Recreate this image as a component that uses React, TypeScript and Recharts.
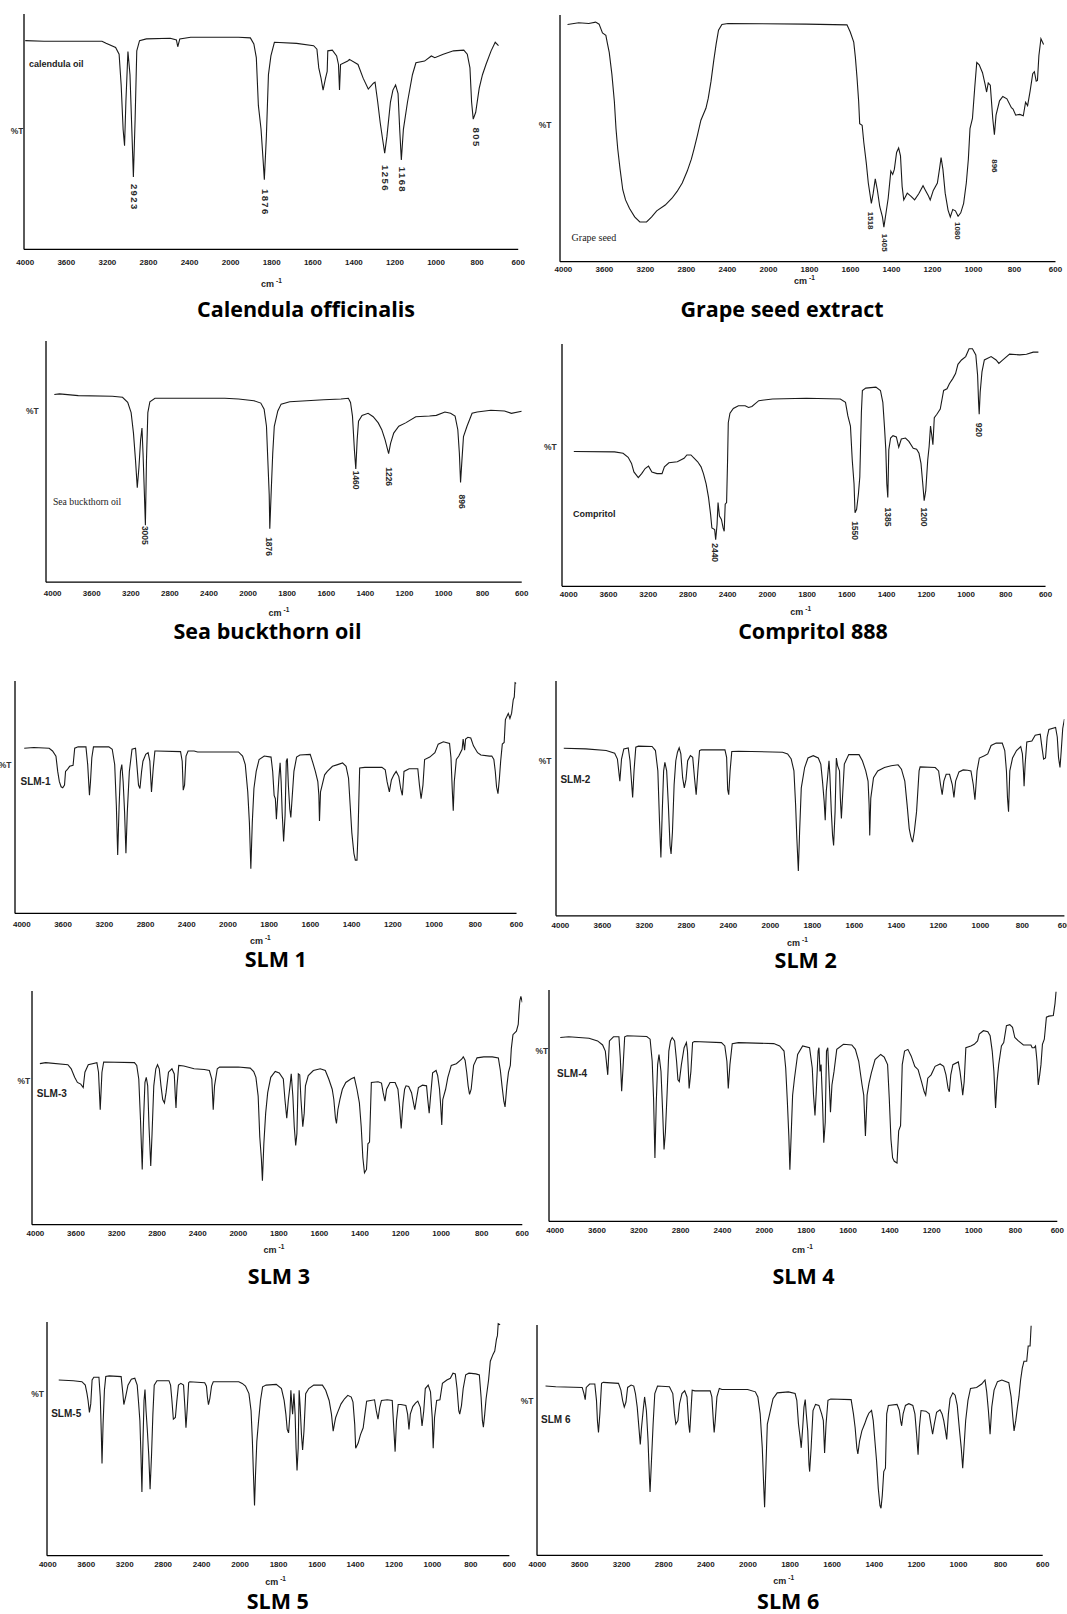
import React from 'react';
import { LineChart, Line, XAxis, YAxis, ReferenceDot } from 'recharts';

// FTIR spectra, [wavenumber cm-1, %T]
const wavenumberTicks = ['4000', '3600', '3200', '2800', '2400', '2000', '1800', '1600', '1400', '1200', '1000', '800', '600'];

type Pt = [number, number];
type Peak = [string, number, number];

const calendulaOil: Pt[] = [
  [4000, 61.2], [3817, 61.0], [3253, 61.0], [3213, 60.4], [3120, 59.2], [3086, 57.2], [3066, 48.2], [3047, 35.2], [3033, 30.4], [3020, 43.2],
  [3000, 58.0], [2980, 51.2], [2960, 33.2], [2947, 21.2], [2930, 38.2], [2914, 58.2], [2887, 61.2], [2821, 61.7], [2588, 61.9], [2528, 61.4],
  [2515, 59.4], [2495, 61.7], [2389, 62.2], [1962, 62.2], [1904, 62.0], [1887, 60.2], [1875, 56.2], [1865, 42.2], [1852, 35.2], [1842, 26.2],
  [1836, 20.4], [1826, 33.2], [1816, 51.2], [1804, 56.7], [1787, 60.7], [1679, 60.4], [1596, 59.7], [1580, 58.7], [1571, 53.2], [1560, 50.2],
  [1550, 46.7], [1538, 50.2], [1530, 52.2], [1527, 58.2], [1505, 58.4], [1484, 56.7], [1475, 54.2], [1470, 46.7], [1465, 54.2], [1430, 55.2],
  [1422, 55.7], [1380, 54.2], [1355, 50.2], [1330, 47.0], [1305, 48.7], [1297, 49.0], [1284, 43.2], [1272, 37.2], [1260, 32.2], [1250, 28.2],
  [1239, 33.2], [1222, 43.2], [1210, 46.7], [1197, 48.2], [1185, 45.7], [1177, 35.2], [1169, 26.2], [1159, 35.2], [1139, 43.2], [1115, 51.2],
  [1098, 54.7], [1056, 55.2], [1023, 56.7], [1006, 56.2], [965, 57.2], [915, 58.2], [865, 58.4], [848, 57.2], [835, 53.2], [827, 43.2],
  [819, 38.2], [807, 40.2], [790, 47.2], [774, 51.2], [757, 54.2], [732, 58.2], [712, 60.7], [696, 59.7],
];
const calendulaPeaks: Peak[] = [['2923', 2937, 19.2], ['1876', 1832, 17.7], ['1256', 1248, 24.7], ['1168', 1165, 24.2], ['805', 805, 35.7]];

const grapeSeed: Pt[] = [
  [3960, 69.9], [3851, 70.4], [3752, 70.2], [3686, 70.6], [3652, 70.0], [3619, 67.4], [3586, 66.7], [3570, 64.2], [3553, 61.7], [3527, 55.2],
  [3503, 47.2], [3487, 39.2], [3470, 33.2], [3447, 27.2], [3421, 21.2], [3394, 18.2], [3355, 15.7], [3305, 13.2], [3255, 11.7], [3189, 11.7],
  [3139, 13.2], [3090, 15.0], [3007, 16.7], [2941, 18.7], [2891, 20.7], [2841, 23.2], [2792, 26.7], [2752, 30.2], [2726, 33.2], [2693, 37.2],
  [2659, 41.7], [2610, 45.2], [2587, 48.2], [2560, 53.2], [2534, 59.2], [2510, 64.2], [2487, 68.2], [2454, 69.9], [2395, 70.2], [1816, 70.0],
  [1617, 69.8], [1601, 67.7], [1584, 64.7], [1576, 60.2], [1568, 54.2], [1560, 47.2], [1555, 40.7], [1543, 40.2], [1535, 35.2], [1523, 29.2],
  [1513, 23.2], [1498, 17.2], [1489, 20.2], [1479, 24.4], [1469, 21.2], [1457, 16.2], [1444, 13.2], [1437, 10.2], [1427, 14.2], [1416, 18.7],
  [1403, 26.7], [1394, 25.7], [1386, 27.2], [1375, 32.2], [1365, 33.5], [1356, 31.2], [1348, 22.2], [1340, 18.2], [1323, 20.2], [1303, 19.2],
  [1287, 18.2], [1267, 20.0], [1246, 22.4], [1234, 21.0], [1220, 19.4], [1211, 18.2], [1196, 21.0], [1176, 23.2], [1166, 27.2], [1158, 30.7],
  [1149, 27.2], [1138, 20.2], [1124, 15.2], [1113, 13.2], [1101, 15.4], [1088, 15.0], [1075, 13.4], [1062, 14.4], [1048, 17.2], [1035, 23.2],
  [1025, 30.2], [1017, 39.2], [1005, 42.2], [994, 51.2], [984, 58.7], [972, 58.0], [956, 55.7], [943, 52.2], [936, 50.0], [928, 52.7],
  [918, 52.0], [906, 42.2], [898, 37.4], [890, 43.2], [873, 47.4], [857, 48.7], [837, 48.0], [815, 45.4], [807, 45.0], [794, 43.2],
  [774, 43.4], [757, 43.0], [746, 47.0], [736, 46.0], [724, 50.2], [711, 55.4], [703, 56.0], [694, 53.2], [688, 53.4], [681, 60.7],
  [671, 65.7], [658, 64.0],
];
const grapePeaks: Peak[] = [['1518', 1502, 14.7], ['1405', 1436, 8.2], ['1080', 1078, 11.7], ['896', 897, 30.2]];

const seaBuckthorn: Pt[] = [
  [3983, 55.0], [3930, 55.2], [3738, 54.7], [3389, 54.5], [3285, 54.2], [3232, 52.7], [3197, 49.7], [3173, 43.7], [3152, 35.7], [3134, 27.7],
  [3117, 33.7], [3100, 41.7], [3086, 45.2], [3075, 37.7], [3061, 25.7], [3051, 16.7], [3040, 35.7], [3026, 49.7], [3005, 52.9], [2953, 53.9],
  [2796, 53.9], [2238, 53.9], [2098, 53.7], [1970, 53.2], [1935, 52.5], [1918, 50.7], [1906, 45.7], [1899, 35.7], [1892, 25.7], [1889, 15.7],
  [1881, 27.7], [1874, 37.7], [1866, 45.7], [1848, 50.2], [1831, 52.2], [1787, 52.9], [1613, 53.5], [1525, 53.7], [1487, 53.9], [1476, 52.7],
  [1466, 48.7], [1456, 38.7], [1449, 33.2], [1442, 41.7], [1435, 47.2], [1417, 48.9], [1386, 49.5], [1360, 48.5], [1334, 46.7], [1316, 44.7],
  [1299, 41.7], [1281, 37.7], [1271, 40.7], [1255, 43.7], [1229, 45.7], [1194, 46.7], [1142, 48.5], [1072, 48.7], [1037, 48.9], [993, 49.9],
  [964, 49.5], [941, 48.7], [927, 44.7], [919, 37.7], [913, 29.2], [906, 35.7], [898, 42.7], [880, 45.7], [854, 49.5], [828, 49.9],
  [758, 50.4], [688, 50.2], [653, 49.5], [600, 50.1],
];
const seaPeaks: Peak[] = [['3005', 3051, 16.5], ['1876', 1892, 13.2], ['1460', 1447, 32.7], ['1226', 1278, 33.7], ['896', 906, 25.7]];

const compritol: Pt[] = [
  [3949, 39.7], [3539, 39.6], [3453, 39.2], [3402, 38.0], [3368, 36.2], [3344, 33.7], [3300, 32.0], [3266, 33.2], [3231, 34.7], [3197, 35.4],
  [3163, 33.7], [3112, 33.2], [3061, 33.2], [3037, 35.2], [2992, 36.4], [2907, 36.7], [2839, 37.7], [2811, 38.7], [2770, 38.7], [2736, 37.7],
  [2702, 36.7], [2668, 35.2], [2644, 33.2], [2617, 30.2], [2593, 26.2], [2572, 21.2], [2559, 17.2], [2531, 16.7], [2521, 13.7], [2507, 18.2],
  [2497, 24.7], [2483, 20.7], [2463, 19.7], [2446, 17.2], [2435, 16.2], [2425, 24.2], [2411, 24.7], [2401, 37.2], [2394, 48.2], [2377, 51.0],
  [2343, 52.4], [2292, 53.2], [2224, 53.2], [2190, 52.7], [2156, 53.0], [2087, 54.7], [1974, 55.2], [1804, 55.4], [1633, 55.2], [1607, 54.2],
  [1595, 50.2], [1582, 47.2], [1573, 37.2], [1564, 30.2], [1559, 21.7], [1551, 22.7], [1542, 27.2], [1535, 32.2], [1527, 51.2], [1522, 57.7],
  [1505, 58.4], [1454, 58.7], [1431, 57.7], [1419, 54.2], [1411, 47.2], [1404, 40.2], [1399, 30.2], [1394, 26.2], [1389, 40.2], [1380, 43.7],
  [1368, 44.4], [1351, 44.0], [1339, 41.0], [1326, 43.4], [1305, 43.7], [1288, 42.7], [1266, 40.7], [1249, 40.4], [1237, 39.2], [1227, 36.2],
  [1218, 30.2], [1211, 25.2], [1203, 28.2], [1193, 37.2], [1186, 41.2], [1179, 47.2], [1172, 44.2], [1167, 41.7], [1160, 49.7], [1147, 50.7],
  [1130, 52.2], [1113, 57.7], [1096, 58.2], [1084, 59.7], [1067, 61.2], [1053, 62.7], [1041, 65.4], [1023, 66.7], [1002, 67.7], [985, 70.0],
  [968, 70.0], [951, 68.2], [942, 62.2], [937, 54.2], [934, 50.7], [929, 57.2], [920, 63.2], [908, 66.7], [874, 67.7], [849, 66.7],
  [835, 65.7], [815, 66.7], [781, 68.4], [730, 68.2], [696, 68.4], [662, 69.0], [636, 69.0],
];
const compritolPeaks: Peak[] = [['2440', 2531, 12.7], ['1550', 1559, 19.2], ['1385', 1394, 23.2], ['1200', 1211, 23.2], ['920', 934, 48.2]];

const slm1: Pt[] = [
  [3977, 48.4], [3884, 48.6], [3735, 48.4], [3702, 47.6], [3669, 46.1], [3652, 41.6], [3636, 38.6], [3619, 37.1], [3603, 36.8], [3586, 37.6],
  [3576, 41.6], [3560, 42.1], [3536, 43.1], [3503, 43.4], [3487, 48.4], [3454, 48.8], [3378, 48.8], [3361, 43.6], [3344, 34.6], [3334, 38.6],
  [3321, 45.6], [3305, 48.8], [3156, 48.8], [3123, 48.1], [3099, 43.6], [3083, 31.6], [3070, 17.1], [3056, 31.6], [3043, 41.6], [3030, 43.6],
  [3017, 38.6], [3003, 29.6], [2990, 17.6], [2977, 29.6], [2957, 41.6], [2931, 48.1], [2897, 48.4], [2884, 43.6], [2868, 37.6], [2854, 36.6],
  [2838, 41.6], [2825, 44.6], [2798, 46.6], [2775, 47.1], [2758, 44.6], [2742, 35.6], [2725, 42.6], [2709, 47.6], [2692, 47.6], [2460, 47.4],
  [2444, 44.6], [2434, 36.1], [2421, 37.6], [2407, 46.1], [2387, 47.6], [2328, 47.6], [2295, 47.3], [1949, 47.3], [1929, 46.1], [1916, 43.6],
  [1904, 35.6], [1896, 26.6], [1889, 13.1], [1882, 26.6], [1874, 36.6], [1863, 41.6], [1849, 45.1], [1824, 46.1], [1791, 45.8], [1783, 41.6],
  [1776, 34.6], [1770, 33.6], [1765, 27.6], [1758, 34.6], [1753, 39.6], [1747, 44.1], [1742, 38.6], [1737, 29.6], [1730, 21.1], [1723, 28.6],
  [1717, 44.6], [1712, 45.4], [1707, 37.6], [1700, 30.6], [1695, 28.1], [1689, 33.6], [1680, 41.6], [1667, 45.8], [1651, 46.4], [1601, 46.6],
  [1588, 44.1], [1576, 41.6], [1564, 38.6], [1559, 34.6], [1556, 27.1], [1551, 35.6], [1543, 37.6], [1531, 40.6], [1518, 41.6], [1493, 43.1],
  [1468, 43.6], [1444, 44.1], [1427, 43.1], [1415, 39.6], [1407, 31.6], [1399, 23.6], [1389, 17.6], [1382, 15.6], [1374, 15.6], [1369, 23.6],
  [1361, 42.6], [1336, 42.8], [1253, 42.8], [1237, 42.1], [1228, 38.6], [1217, 35.6], [1207, 39.1], [1195, 40.6], [1184, 41.6], [1171, 40.1],
  [1162, 36.6], [1154, 34.6], [1146, 41.6], [1121, 42.4], [1079, 42.4], [1071, 37.6], [1063, 33.6], [1054, 37.6], [1046, 45.1], [1021, 45.8],
  [996, 47.1], [980, 49.6], [955, 50.3], [925, 49.8], [918, 45.6], [912, 36.6], [907, 30.1], [902, 38.6], [892, 45.1], [880, 46.1],
  [864, 48.1], [859, 51.1], [852, 47.8], [847, 51.1], [836, 51.6], [822, 51.4], [809, 49.1], [789, 47.1], [773, 46.4], [731, 46.1],
  [720, 46.1], [710, 45.1], [703, 41.6], [697, 37.1], [690, 35.1], [683, 39.6], [677, 44.6], [669, 49.6], [660, 50.1], [654, 56.8],
  [640, 58.6], [632, 57.1], [624, 58.6], [616, 62.6], [611, 63.4], [607, 67.6], [601, 67.4],
];

const slm2: Pt[] = [
  [3968, 49.4], [3758, 49.2], [3564, 48.7], [3483, 47.9], [3457, 46.2], [3434, 39.7], [3418, 46.2], [3396, 49.2], [3354, 49.5], [3337, 45.7],
  [3321, 38.7], [3312, 34.9], [3299, 42.7], [3282, 49.7], [3257, 50.0], [3127, 49.9], [3095, 48.7], [3072, 42.7], [3056, 27.7], [3043, 17.2],
  [3030, 30.7], [3017, 42.7], [3005, 45.2], [2988, 42.7], [2972, 32.7], [2956, 20.7], [2946, 18.2], [2933, 24.7], [2917, 38.7], [2901, 45.7],
  [2885, 48.2], [2869, 49.5], [2853, 47.7], [2836, 40.7], [2820, 37.7], [2804, 40.2], [2788, 45.7], [2762, 47.2], [2740, 46.7], [2723, 40.7],
  [2707, 35.7], [2691, 42.7], [2675, 48.7], [2659, 48.9], [2433, 48.9], [2417, 46.7], [2407, 37.2], [2397, 35.7], [2384, 42.7], [2368, 48.4],
  [2303, 48.5], [1942, 48.2], [1918, 47.7], [1901, 46.2], [1888, 42.7], [1880, 32.7], [1874, 22.7], [1867, 13.2], [1861, 24.7], [1853, 37.7],
  [1837, 43.7], [1821, 46.5], [1796, 47.2], [1772, 46.5], [1760, 44.7], [1752, 39.7], [1744, 33.7], [1739, 28.2], [1734, 36.7], [1728, 40.7],
  [1721, 45.7], [1717, 41.7], [1710, 30.7], [1704, 23.7], [1699, 20.7], [1692, 30.7], [1686, 46.5], [1680, 44.2], [1671, 42.7], [1667, 34.7],
  [1662, 28.7], [1656, 35.7], [1648, 44.7], [1627, 47.5], [1578, 47.5], [1562, 45.7], [1546, 42.7], [1535, 39.7], [1530, 32.7], [1527, 23.7],
  [1522, 34.7], [1509, 40.7], [1489, 42.7], [1457, 43.7], [1425, 44.2], [1392, 44.5], [1376, 43.2], [1360, 39.7], [1349, 32.7], [1339, 25.7],
  [1331, 23.2], [1323, 21.7], [1315, 24.7], [1304, 30.7], [1292, 42.7], [1287, 43.9], [1215, 43.7], [1199, 42.7], [1190, 38.7], [1182, 35.7],
  [1174, 39.7], [1163, 41.7], [1147, 41.7], [1134, 38.7], [1126, 34.9], [1118, 39.7], [1102, 42.4], [1082, 43.0], [1061, 42.9], [1045, 42.7],
  [1034, 38.7], [1026, 34.2], [1016, 42.7], [1005, 46.5], [981, 47.2], [965, 47.7], [949, 50.2], [925, 50.9], [896, 50.9], [884, 48.7],
  [876, 42.7], [871, 34.7], [866, 30.7], [860, 42.7], [847, 46.5], [828, 48.7], [808, 49.9], [800, 47.7], [795, 42.7], [792, 38.2],
  [787, 44.7], [779, 51.2], [755, 51.5], [739, 53.2], [715, 53.5], [707, 49.7], [699, 46.2], [690, 46.5], [682, 52.7], [674, 54.9],
  [642, 55.5], [634, 52.7], [628, 46.7], [621, 43.7], [615, 48.7], [608, 55.2], [600, 58.0],
];

const slm3: Pt[] = [
  [3956, 47.2], [3899, 47.5], [3680, 46.9], [3647, 45.7], [3613, 43.2], [3586, 41.7], [3553, 41.2], [3529, 40.2], [3512, 44.7], [3479, 46.9],
  [3394, 47.5], [3378, 44.7], [3361, 33.7], [3344, 44.7], [3327, 47.7], [3024, 47.5], [3001, 46.7], [2981, 42.7], [2964, 30.7], [2947, 16.2],
  [2934, 30.7], [2920, 41.7], [2907, 43.2], [2893, 40.7], [2880, 28.7], [2863, 17.2], [2850, 26.7], [2833, 40.7], [2813, 45.7], [2796, 46.9],
  [2779, 45.7], [2762, 40.7], [2745, 36.7], [2728, 35.7], [2712, 38.7], [2688, 44.7], [2654, 45.7], [2631, 44.2], [2621, 37.7], [2614, 34.2],
  [2604, 40.7], [2587, 46.7], [2537, 46.5], [2436, 45.7], [2335, 45.5], [2285, 45.2], [2261, 42.7], [2247, 33.7], [2234, 40.7], [2207, 45.7],
  [2184, 46.2], [2000, 46.2], [1941, 45.9], [1924, 44.9], [1913, 43.2], [1902, 37.7], [1894, 25.7], [1886, 19.2], [1881, 12.9], [1874, 23.7],
  [1865, 32.7], [1855, 38.7], [1840, 43.2], [1818, 44.9], [1798, 44.5], [1778, 42.7], [1770, 36.7], [1761, 31.2], [1753, 36.7], [1745, 40.7],
  [1739, 44.2], [1731, 37.7], [1724, 28.7], [1717, 23.2], [1711, 26.7], [1704, 44.2], [1697, 43.9], [1691, 36.7], [1682, 28.7], [1675, 32.7],
  [1669, 40.7], [1655, 43.7], [1630, 45.2], [1596, 45.7], [1571, 45.2], [1554, 42.7], [1537, 39.7], [1529, 36.7], [1521, 31.2], [1516, 29.7],
  [1509, 33.7], [1499, 36.7], [1487, 39.7], [1470, 41.7], [1445, 42.7], [1428, 43.2], [1415, 39.7], [1403, 35.7], [1394, 28.7], [1386, 19.7],
  [1378, 15.2], [1368, 16.2], [1361, 23.7], [1353, 24.2], [1344, 41.7], [1311, 41.9], [1294, 41.5], [1286, 38.7], [1277, 36.2], [1269, 39.7],
  [1252, 41.7], [1227, 41.7], [1213, 39.7], [1205, 34.7], [1197, 28.2], [1188, 35.7], [1180, 39.7], [1173, 40.7], [1160, 40.5], [1146, 38.7],
  [1138, 36.2], [1130, 33.7], [1122, 36.7], [1112, 40.2], [1092, 40.9], [1072, 40.7], [1066, 36.7], [1059, 32.7], [1052, 37.7], [1042, 44.5],
  [1025, 45.2], [1017, 43.7], [1008, 39.7], [1002, 34.7], [997, 29.2], [992, 36.7], [978, 39.7], [967, 43.2], [950, 46.7], [925, 47.2],
  [899, 48.5], [891, 49.2], [882, 48.2], [874, 44.7], [867, 40.7], [860, 38.2], [852, 39.7], [840, 46.7], [823, 48.9], [790, 49.2],
  [748, 49.2], [718, 48.9], [708, 45.2], [700, 40.7], [691, 36.2], [685, 34.5], [676, 40.7], [668, 44.7], [659, 46.7], [654, 51.7],
  [646, 55.7], [629, 56.7], [620, 58.7], [617, 61.7], [612, 65.7], [607, 66.9], [600, 65.2],
];

const slm4: Pt[] = [
  [3951, 54.2], [3870, 54.4], [3676, 54.0], [3594, 53.2], [3546, 52.0], [3520, 50.2], [3507, 46.2], [3497, 43.2], [3481, 53.2], [3442, 54.4],
  [3390, 54.4], [3377, 48.2], [3364, 38.4], [3351, 45.2], [3335, 54.4], [3312, 54.7], [3124, 54.5], [3092, 53.7], [3072, 47.2], [3059, 36.2],
  [3046, 18.7], [3033, 35.2], [3020, 46.2], [3007, 49.2], [2988, 44.2], [2972, 32.2], [2959, 21.2], [2946, 26.2], [2929, 38.2], [2913, 50.2],
  [2897, 53.2], [2881, 54.2], [2858, 53.2], [2839, 47.2], [2826, 41.7], [2813, 41.2], [2793, 46.2], [2767, 51.2], [2745, 52.7], [2735, 50.2],
  [2719, 39.2], [2702, 44.2], [2686, 52.7], [2670, 53.0], [2410, 52.7], [2378, 51.7], [2358, 47.2], [2345, 39.2], [2329, 46.2], [2307, 52.4],
  [2248, 52.7], [1955, 52.4], [1927, 51.7], [1906, 50.2], [1898, 45.2], [1890, 35.2], [1883, 25.2], [1878, 15.2], [1872, 25.2], [1865, 37.2],
  [1856, 42.2], [1841, 49.2], [1817, 51.7], [1784, 51.2], [1771, 45.2], [1765, 37.2], [1758, 31.2], [1752, 38.2], [1743, 50.2], [1739, 51.2],
  [1734, 44.2], [1729, 46.2], [1722, 35.2], [1716, 23.2], [1709, 29.2], [1703, 50.2], [1697, 51.2], [1690, 41.2], [1684, 32.2], [1677, 40.2],
  [1667, 44.2], [1654, 50.7], [1622, 52.2], [1582, 52.0], [1565, 50.7], [1549, 47.2], [1533, 40.2], [1525, 37.2], [1517, 25.2], [1509, 37.2],
  [1500, 40.7], [1489, 43.7], [1471, 47.7], [1444, 49.2], [1427, 48.4], [1411, 46.2], [1403, 36.2], [1395, 24.2], [1387, 18.7], [1379, 17.7],
  [1366, 17.2], [1358, 26.7], [1349, 28.2], [1341, 46.2], [1330, 50.2], [1314, 50.7], [1298, 48.7], [1281, 45.7], [1265, 44.7], [1249, 41.2],
  [1236, 38.2], [1229, 37.2], [1219, 42.2], [1203, 43.2], [1184, 45.7], [1160, 46.4], [1143, 45.7], [1132, 43.2], [1122, 39.2], [1116, 38.2],
  [1109, 43.2], [1099, 46.2], [1073, 47.0], [1065, 44.2], [1057, 40.2], [1052, 37.2], [1045, 41.2], [1037, 51.2], [1013, 51.7], [997, 52.2],
  [981, 53.2], [973, 55.2], [953, 56.2], [932, 55.9], [921, 54.7], [911, 50.2], [903, 44.2], [895, 33.4], [888, 41.2], [880, 46.2],
  [867, 51.7], [856, 52.7], [843, 57.7], [827, 58.0], [814, 57.2], [803, 54.2], [786, 53.2], [762, 52.0], [726, 52.0], [720, 51.2],
  [710, 51.2], [704, 51.7], [697, 47.2], [691, 40.2], [684, 43.2], [678, 46.2], [671, 52.2], [662, 53.7], [652, 60.2], [640, 60.5],
  [619, 60.7], [611, 64.2], [606, 67.7],
];

const slm5: Pt[] = [
  [3886, 51.5], [3734, 51.3], [3645, 51.0], [3610, 50.0], [3592, 47.5], [3581, 45.5], [3567, 42.0], [3553, 44.5], [3539, 51.5], [3521, 52.3],
  [3468, 52.3], [3454, 46.5], [3443, 35.5], [3436, 27.0], [3425, 38.5], [3411, 48.5], [3397, 52.5], [3361, 52.7], [3237, 52.5], [3219, 47.5],
  [3209, 44.3], [3191, 46.5], [3166, 50.0], [3131, 51.7], [3095, 52.0], [3070, 50.0], [3056, 45.0], [3042, 39.5], [3031, 29.5], [3021, 18.7],
  [3010, 33.5], [2999, 45.5], [2989, 48.7], [2978, 42.5], [2964, 36.5], [2950, 29.5], [2936, 19.5], [2921, 29.5], [2907, 41.5], [2893, 50.0],
  [2865, 51.3], [2740, 51.3], [2723, 50.0], [2709, 45.5], [2694, 40.0], [2673, 40.5], [2659, 45.0], [2641, 50.0], [2616, 50.5], [2588, 50.0],
  [2574, 43.5], [2563, 37.5], [2549, 43.5], [2535, 50.7], [2524, 51.0], [2368, 50.7], [2350, 49.7], [2340, 46.5], [2329, 44.3], [2315, 46.0],
  [2297, 49.7], [2279, 51.0], [2014, 51.0], [1989, 50.5], [1972, 49.7], [1954, 47.5], [1943, 42.5], [1936, 33.5], [1931, 24.5], [1925, 14.7],
  [1920, 23.5], [1913, 33.5], [1904, 39.5], [1894, 45.5], [1883, 49.5], [1865, 50.0], [1812, 50.2], [1785, 49.0], [1771, 45.5], [1762, 41.5],
  [1755, 37.0], [1748, 36.0], [1741, 41.5], [1736, 48.5], [1730, 43.5], [1727, 41.5], [1720, 47.5], [1714, 41.5], [1709, 31.5], [1704, 25.0],
  [1698, 31.5], [1693, 48.5], [1688, 44.0], [1681, 35.5], [1675, 31.0], [1668, 36.5], [1659, 47.5], [1643, 49.0], [1617, 50.0], [1572, 50.0],
  [1555, 48.5], [1537, 45.5], [1525, 41.5], [1516, 36.5], [1510, 38.5], [1503, 40.5], [1493, 42.0], [1475, 44.5], [1457, 46.0], [1440, 47.0],
  [1422, 46.5], [1413, 45.0], [1404, 38.5], [1399, 31.5], [1386, 33.0], [1374, 35.5], [1360, 37.5], [1351, 41.5], [1342, 45.3], [1301, 45.7],
  [1292, 42.5], [1283, 40.0], [1274, 43.5], [1265, 45.5], [1235, 45.7], [1209, 45.5], [1200, 36.5], [1194, 30.5], [1187, 39.5], [1178, 44.3],
  [1164, 44.3], [1138, 44.0], [1129, 41.5], [1122, 37.0], [1115, 41.5], [1102, 43.7], [1088, 44.7], [1076, 45.3], [1063, 43.5], [1054, 38.0],
  [1045, 42.5], [1037, 49.0], [1022, 50.0], [1010, 48.0], [1001, 40.5], [996, 31.5], [989, 40.5], [978, 45.5], [961, 45.7], [948, 50.5],
  [925, 51.5], [907, 52.0], [893, 53.5], [881, 53.3], [872, 49.0], [863, 42.5], [858, 41.5], [849, 44.0], [840, 49.0], [827, 53.0],
  [810, 53.5], [774, 53.3], [756, 53.0], [747, 46.5], [740, 39.5], [735, 37.7], [728, 41.5], [721, 46.0], [708, 51.5], [699, 57.0],
  [685, 59.0], [676, 60.0], [667, 63.5], [662, 64.5], [658, 68.0], [648, 67.7],
];

const slm6: Pt[] = [
  [3923, 49.9], [3826, 49.7], [3575, 49.5], [3558, 47.7], [3546, 45.9], [3536, 49.5], [3504, 50.5], [3455, 50.5], [3439, 45.7], [3430, 39.7],
  [3420, 36.2], [3407, 41.7], [3391, 50.7], [3375, 51.0], [3230, 50.7], [3207, 48.7], [3191, 45.7], [3175, 43.7], [3159, 45.2], [3143, 49.5],
  [3110, 50.2], [3085, 49.9], [3069, 47.7], [3052, 43.7], [3036, 37.7], [3023, 32.7], [3011, 37.7], [2994, 43.2], [2982, 46.7], [2965, 42.7],
  [2949, 33.7], [2936, 22.7], [2930, 18.7], [2917, 27.7], [2901, 38.7], [2885, 47.7], [2859, 49.9], [2746, 49.7], [2714, 47.7], [2698, 41.7],
  [2685, 38.7], [2666, 39.7], [2650, 44.7], [2627, 47.7], [2601, 48.5], [2579, 46.7], [2563, 38.7], [2553, 36.2], [2543, 41.7], [2530, 48.7],
  [2504, 48.5], [2359, 48.5], [2343, 46.7], [2327, 38.7], [2321, 36.2], [2311, 39.7], [2295, 46.7], [2272, 49.2], [2247, 48.9], [2003, 48.9],
  [1965, 48.2], [1953, 46.7], [1942, 41.7], [1932, 31.7], [1926, 21.7], [1921, 14.2], [1916, 23.7], [1908, 38.7], [1897, 41.7], [1881, 46.2],
  [1861, 47.9], [1808, 48.2], [1776, 47.7], [1768, 45.7], [1760, 38.7], [1752, 34.7], [1747, 31.7], [1740, 37.7], [1734, 43.7], [1728, 45.9],
  [1723, 41.7], [1716, 36.7], [1710, 26.7], [1707, 24.7], [1700, 31.7], [1691, 42.7], [1679, 44.5], [1663, 44.2], [1650, 41.7], [1642, 39.7],
  [1636, 30.2], [1629, 38.7], [1620, 45.7], [1607, 46.1], [1510, 45.9], [1499, 41.7], [1491, 37.7], [1483, 31.7], [1478, 29.9], [1470, 33.7],
  [1459, 36.7], [1446, 38.7], [1436, 40.5], [1426, 41.9], [1413, 42.7], [1405, 39.7], [1397, 33.7], [1389, 27.7], [1381, 19.7], [1373, 14.7],
  [1368, 13.9], [1362, 17.7], [1355, 24.7], [1347, 25.7], [1341, 41.7], [1333, 44.2], [1292, 44.5], [1281, 42.7], [1275, 39.7], [1270, 38.2],
  [1263, 41.7], [1252, 44.2], [1236, 44.7], [1217, 44.2], [1207, 41.7], [1199, 35.7], [1192, 29.7], [1186, 37.7], [1178, 42.7], [1155, 42.5],
  [1139, 41.7], [1131, 38.7], [1123, 35.7], [1115, 38.7], [1104, 42.2], [1088, 42.9], [1078, 41.7], [1070, 39.7], [1062, 36.7], [1056, 34.2],
  [1048, 41.7], [1040, 46.2], [1027, 47.9], [1016, 47.2], [1006, 44.2], [995, 36.7], [987, 31.7], [980, 25.7], [974, 31.7], [966, 39.7],
  [955, 45.7], [943, 49.2], [914, 49.5], [890, 50.5], [874, 51.7], [866, 48.2], [858, 42.7], [850, 35.7], [842, 43.7], [831, 48.7],
  [815, 51.2], [794, 51.7], [761, 50.9], [750, 46.7], [742, 40.7], [736, 36.7], [728, 39.7], [720, 43.7], [713, 46.7], [705, 51.7],
  [697, 55.2], [689, 57.2], [676, 57.2], [669, 61.7], [660, 61.7], [655, 67.7],
];

// piecewise wavenumber axis: 400 cm-1 per division above 2000, 200 below
const toPos = (wn: number) => (wn >= 2000 ? (4000 - wn) / 400 : 5 + (2000 - wn) / 200);

interface PanelCfg {
  title: string;
  tag: string;
  points: Pt[];
  peaks: Peak[];
  x4000: number;
  x600: number;
  xMin: number;
  top: number;
  bottom: number;
  yMax: number;
  yTicks: number[];
  tickGap: number;
  pctT: [number, number];
  tagPos: [number, number];
  cmPos: [number, number];
  titlePos: [number, number];
  tagSize: number;
  serifTag?: boolean;
  peakSize?: number;
  peakSpacing?: number;
}

const panels: PanelCfg[] = [
  {
    title: 'Calendula officinalis', tag: 'calendula oil', points: calendulaOil, peaks: calendulaPeaks,
    x4000: 25.6, x600: 518.6, xMin: -0.03, top: 14.3, bottom: 249.7, yMax: 69, yTicks: [65.5, 53.2, 40.7, 28.3, 17.5, 6.0], tickGap: 10,
    pctT: [17, 131], tagPos: [29, 63.8], cmPos: [267, 283], titlePos: [306, 309], tagSize: 9, peakSize: 9.5, peakSpacing: 1.4,
  },
  {
    title: 'Grape seed extract', tag: 'Grape seed', points: grapeSeed, peaks: grapePeaks,
    x4000: 563.8, x600: 1055.9, xMin: -0.083, top: 15.3, bottom: 262, yMax: 72.7, yTicks: [69.4, 63, 54.4, 46.4, 37.6, 28.7, 20, 12.2, 4.2], tickGap: 4.5,
    pctT: [545.2, 124.5], tagPos: [571.6, 238.2], cmPos: [800, 280], titlePos: [782, 309], tagSize: 10, serifTag: true, peakSize: 8,
  },
  {
    title: 'Sea buckthorn oil', tag: 'Sea buckthorn oil', points: seaBuckthorn, peaks: seaPeaks,
    x4000: 52.9, x600: 522, xMin: -0.17, top: 341.1, bottom: 582.3, yMax: 70.7, yTicks: [64.9, 54.7, 44.4, 23.7, 14.4, 4.5], tickGap: 8,
    pctT: [32.4, 411], tagPos: [52.9, 502.1], cmPos: [274.6, 612.3], titlePos: [267.5, 630.7], tagSize: 9.7, serifTag: true, peakSize: 8.5,
  },
  {
    title: 'Compritol 888', tag: 'Compritol', points: compritol, peaks: compritolPeaks,
    x4000: 568.9, x600: 1045.7, xMin: -0.17, top: 343.7, bottom: 586, yMax: 71.4, yTicks: [67, 61, 52.7, 44.7, 27.7, 11.7, 3.7], tickGap: 5.5,
    pctT: [550.3, 446.8], tagPos: [573, 514], cmPos: [796.3, 610.7], titlePos: [813, 630.7], tagSize: 9, peakSize: 8.5,
  },
  {
    title: 'SLM 1', tag: 'SLM-1', points: slm1, peaks: [],
    x4000: 22.2, x600: 516.9, xMin: -0.166, top: 680.9, bottom: 913.3, yMax: 68.1, yTicks: [66.4, 57.1, 48.4, 39.4, 30.1, 20.8, 12.6, 3.9], tickGap: 7.5,
    pctT: [5.1, 764.5], tagPos: [20.5, 781.6], cmPos: [255.9, 940.2], titlePos: [275.8, 959], tagSize: 10,
  },
  {
    title: 'SLM 2', tag: 'SLM-2', points: slm2, peaks: [],
    x4000: 560.4, x600: 1064.4, xMin: -0.105, top: 680.9, bottom: 915.7, yMax: 69.2, yTicks: [67.2, 58, 49.5, 40.2, 30.7, 21.2, 12.9, 4.1], tickGap: 7,
    pctT: [545.2, 761.3], tagPos: [560.4, 780], cmPos: [793, 941.5], titlePos: [805.7, 960], tagSize: 10,
  },
  {
    title: 'SLM 3', tag: 'SLM-3', points: slm3, peaks: [],
    x4000: 35.8, x600: 522.7, xMin: -0.084, top: 990.5, bottom: 1224.2, yMax: 68.5, yTicks: [64.2, 55.5, 46.9, 38.2, 29.2, 20.2, 12.2, 3.9], tickGap: 5.5,
    pctT: [23.9, 1080.9], tagPos: [36.8, 1093.9], cmPos: [269.5, 1249.1], titlePos: [278.9, 1276], tagSize: 10,
  },
  {
    title: 'SLM 4', tag: 'SLM-4', points: slm4, peaks: [],
    x4000: 555.4, x600: 1057.6, xMin: -0.146, top: 989.8, bottom: 1221.2, yMax: 68.2, yTicks: [66.7, 54.2, 43.7, 33.5, 23.4, 14.2, 4.7], tickGap: 5.5,
    pctT: [541.8, 1050.9], tagPos: [557.1, 1073.6], cmPos: [798, 1249.4], titlePos: [803.6, 1276], tagSize: 10,
  },
  {
    title: 'SLM 5', tag: 'SLM-5', points: slm5, peaks: [],
    x4000: 47.8, x600: 509.4, xMin: -0.02, top: 1322.2, bottom: 1555.9, yMax: 68.5, yTicks: [60.3, 49.5, 41.7, 31.7, 22.3, 13.5, 4.3], tickGap: 6,
    pctT: [37.5, 1393.9], tagPos: [51.2, 1413.7], cmPos: [271.2, 1580.5], titlePos: [277.8, 1601], tagSize: 10,
  },
  {
    title: 'SLM 6', tag: 'SLM 6', points: slm6, peaks: [],
    x4000: 537, x600: 1042.3, xMin: -0.01, top: 1324.9, bottom: 1555.3, yMax: 67.9, yTicks: [60.5, 51.2, 40.2, 30.7, 21.5, 13.2, 4.2], tickGap: 5.5,
    pctT: [527, 1400.7], tagPos: [541.1, 1419.9], cmPos: [779.3, 1580], titlePos: [788.2, 1601], tagSize: 10,
  },
];

const SANS = '"Liberation Sans", Arial, sans-serif';
const SERIF = '"Liberation Serif", "Times New Roman", serif';
const ML = 12;
const MR = 18;
const MT = 4;
const XH = 26;

const abs = (x: number, y: number, extra: React.CSSProperties = {}): React.CSSProperties => ({
  position: 'absolute', left: x, top: y, whiteSpace: 'nowrap', lineHeight: 1, ...extra,
});

const Panel = ({ c }: { c: PanelCfg }) => {
  const unit = (c.x600 - c.x4000) / 12;
  const plotLeft = c.x4000 + c.xMin * unit;
  const plotW = c.x600 - plotLeft;
  const plotH = c.bottom - c.top;
  const data = c.points.map(([wn, t]) => ({ p: toPos(wn), t }));
  const peakSize = c.peakSize ?? 8;

  return (
    <>
      <div style={{ position: 'absolute', left: plotLeft - ML, top: c.top - MT }}>
        <LineChart
          width={plotW + ML + MR}
          height={plotH + MT + XH}
          data={data}
          margin={{ top: MT, right: MR, bottom: 0, left: 0 }}
        >
          <XAxis
            type="number"
            dataKey="p"
            domain={[c.xMin, 12]}
            allowDataOverflow
            ticks={wavenumberTicks.map((_, i) => i)}
            interval={0}
            tickFormatter={(v: number) => wavenumberTicks[Math.round(v)]}
            tickLine={false}
            tickSize={0}
            tickMargin={c.tickGap}
            height={XH}
            axisLine={{ stroke: '#000', strokeWidth: 1.3 }}
            tick={{ fontSize: 8, fontWeight: 700, fill: '#1a1a1a', fontFamily: SANS }}
          />
          <YAxis
            type="number"
            domain={[0, c.yMax]}
            allowDataOverflow
            ticks={c.yTicks}
            interval={0}
            tick={false}
            tickSize={4}
            width={ML}
            tickLine={{ stroke: '#000', strokeWidth: 1 }}
            axisLine={{ stroke: '#000', strokeWidth: 1.3 }}
          />
          <Line
            type="linear"
            dataKey="t"
            stroke="#1a1a1a"
            strokeWidth={1.1}
            dot={false}
            isAnimationActive={false}
          />
          {c.peaks.map(([label, wn, t]) => (
            <ReferenceDot
              key={label}
              x={toPos(wn)}
              y={t}
              r={1}
              ifOverflow="visible"
              shape={(props: any) => (
                <text
                  x={props.cx}
                  y={props.cy}
                  transform={`rotate(90 ${props.cx} ${props.cy})`}
                  fontSize={peakSize}
                  fontWeight={700}
                  fontFamily={SANS}
                  letterSpacing={c.peakSpacing ?? 0}
                  fill="#2a2a2a"
                  dominantBaseline="central"
                  textAnchor="start"
                >
                  {label}
                </text>
              )}
            />
          ))}
        </LineChart>
      </div>
      <div style={abs(c.pctT[0], c.pctT[1], { transform: 'translate(-50%, -50%)', fontSize: 8.5, fontFamily: SANS, fontWeight: 700, color: '#333' })}>
        %T
      </div>
      <div
        style={abs(c.tagPos[0], c.tagPos[1], {
          transform: 'translateY(-50%)',
          fontSize: c.tagSize,
          fontFamily: c.serifTag ? SERIF : SANS,
          fontWeight: c.serifTag ? 400 : 700,
          color: '#222',
        })}
      >
        {c.tag}
      </div>
      <div style={abs(c.cmPos[0] - 6, c.cmPos[1], { transform: 'translateY(-50%)', fontSize: 9, fontFamily: SANS, fontWeight: 700, color: '#222' })}>
        cm<sup style={{ fontSize: 6.5, marginLeft: 2 }}>-1</sup>
      </div>
      <div
        style={abs(c.titlePos[0], c.titlePos[1], {
          transform: 'translate(-50%, -50%)',
          fontSize: 21.5,
          fontFamily: '"Open Sans", Lato, sans-serif',
          fontWeight: 700,
          color: '#000',
        })}
      >
        {c.title}
      </div>
    </>
  );
};

export default function App() {
  return (
    <div style={{ position: 'absolute', left: 0, top: 0, width: 1067, height: 1614, background: '#fff', overflow: 'hidden' }}>
      {panels.map((c) => (
        <Panel key={c.title} c={c} />
      ))}
    </div>
  );
}
